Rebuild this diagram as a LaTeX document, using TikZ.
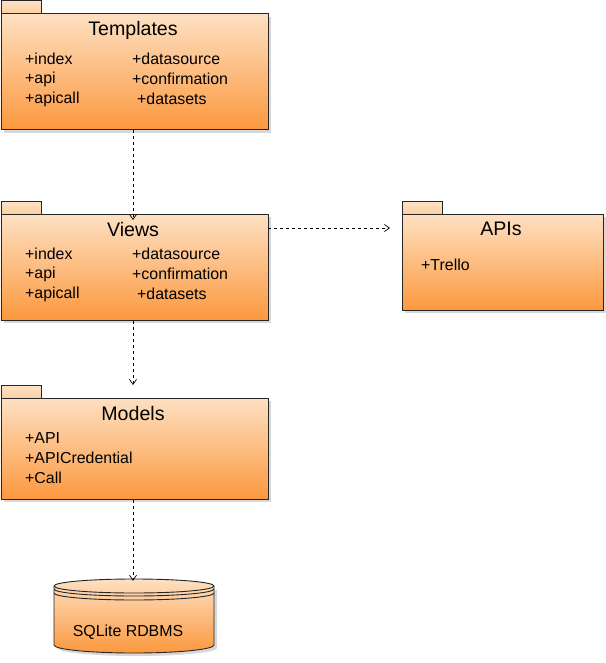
\documentclass[tikz,border=0pt]{standalone}
\usepackage{fontspec}
\setmainfont{Liberation Sans}
\usetikzlibrary{arrows.meta,shadows}
\definecolor{ortop}{RGB}{253,224,194}
\definecolor{orbot}{RGB}{252,152,62}
\definecolor{tabtop}{RGB}{253,226,198}
\definecolor{tabbot}{RGB}{252,206,160}
\tikzset{
  pkgbody/.style={draw=black!85, line width=0.9pt, rectangle, anchor=north west,
    top color=ortop, bottom color=orbot,
    drop shadow={shadow xshift=3pt, shadow yshift=-3pt, fill=black!25, opacity=0.6}},
  pkgtab/.style={draw=black!85, line width=0.9pt, rectangle, anchor=north west,
    minimum width=40pt, minimum height=13pt, inner sep=0pt,
    top color=tabtop, bottom color=tabbot},
  ttl/.style={font=\fontsize{19.6}{22}\selectfont, anchor=center, inner sep=0pt},
  itm/.style={font=\fontsize{15.9}{18}\selectfont, anchor=west, inner sep=0pt},
  dbline/.style={draw=black!85, line width=0.9pt},
  dep/.style={draw=black, line width=0.8pt, dashed, dash pattern=on 3pt off 3pt,
    -{Straight Barb[length=5pt,width=7pt,line width=0.7pt]}},
}
\begin{document}
\begin{tikzpicture}[x=1pt,y=-1pt]
\useasboundingbox[fill=white] (0,0) rectangle (605,663);
% Templates
\node[pkgtab] (ttab) at (0.5,0.5) {};
\node[pkgbody, minimum width=267pt, minimum height=116pt] (templ) at (0.5,13.5) {};
\node[ttl] (ttitle) at (133,30) {Templates};
\node[itm] (t1) at (25,59) {+index};
\node[itm] (t2) at (25,79) {+api};
\node[itm] (t3) at (25,99) {+apicall};
\node[itm] (t4) at (132,59) {+datasource};
\node[itm] (t5) at (132,79) {+confirmation};
\node[itm] (t6) at (137,99) {+datasets};
% Views
\node[pkgtab] (vtab) at (0.5,201) {};
\node[pkgbody, minimum width=267pt, minimum height=106pt] (views) at (0.5,214) {};
\node[ttl] (vtitle) at (133,229) {Views};
\node[itm] (v1) at (25,254) {+index};
\node[itm] (v2) at (25,274) {+api};
\node[itm] (v3) at (25,294) {+apicall};
\node[itm] (v4) at (132,254) {+datasource};
\node[itm] (v5) at (132,274) {+confirmation};
\node[itm] (v6) at (137,294) {+datasets};
% APIs
\node[pkgtab] (atab) at (402,201) {};
\node[pkgbody, minimum width=201pt, minimum height=96pt] (apis) at (402,214) {};
\node[ttl] (atitle) at (501,229) {APIs};
\node[itm] (a1) at (421,265) {+Trello};
% Models
\node[pkgtab] (mtab) at (0.5,385) {};
\node[pkgbody, minimum width=267pt, minimum height=101pt] (models) at (0.5,398) {};
\node[ttl] (mtitle) at (133,413) {Models};
\node[itm] (m1) at (25,438) {+API};
\node[itm] (m2) at (25,458) {+APICredential};
\node[itm] (m3) at (25,478) {+Call};
% Database cylinder
\node[minimum width=160pt, minimum height=74pt, inner sep=0pt] (db) at (134,616) {};
\fill[black!25, opacity=0.6] (57,590) -- (57,648) arc[start angle=180, end angle=360, x radius=80pt, y radius=8pt] -- (217,590) -- cycle;
\path[top color=ortop, bottom color=orbot, dbline]
  (54,586) arc[start angle=180, end angle=0, x radius=80pt, y radius=7pt]
  -- (214,645) arc[start angle=0, end angle=-180, x radius=80pt, y radius=8pt] -- cycle;
\draw[dbline] (54,586) arc[start angle=180, end angle=360, x radius=80pt, y radius=7pt];
\draw[dbline] (54,589) arc[start angle=180, end angle=360, x radius=80pt, y radius=7pt];
\draw[dbline] (54,593) arc[start angle=180, end angle=360, x radius=80pt, y radius=7pt];
\node[itm, anchor=center] (dbtext) at (128,632) {SQLite RDBMS};
% Connectors
\draw[dep] (templ.south -| ttitle) -- ([yshift=-6pt]views.north -| ttitle);
\draw[dep] ([yshift=-14pt]views.north east) -- ([yshift=-14pt,xshift=-12pt]apis.north west);
\draw[dep] (views.south -| vtitle) -- ([yshift=13pt]models.north -| mtitle);
\draw[dep] (models.south -| mtitle) -- ([yshift=-2pt]db.north -| mtitle);
\end{tikzpicture}
\end{document}
